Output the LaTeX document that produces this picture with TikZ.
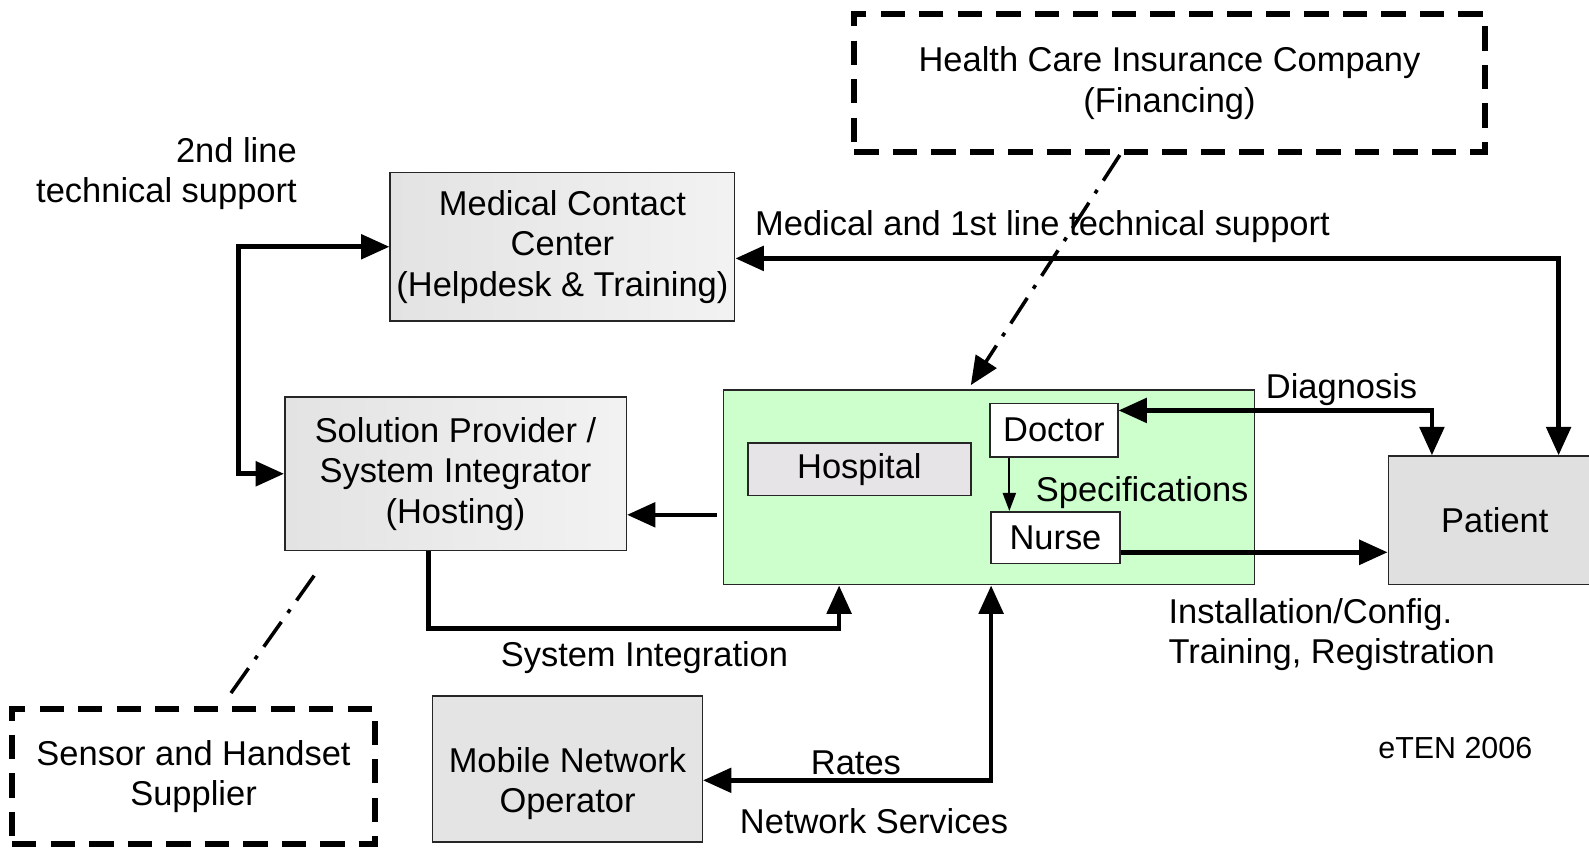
\documentclass[tikz,border=0pt]{standalone}
\usepackage{fontspec}
\setmainfont{Liberation Sans}
\usetikzlibrary{arrows.meta}
\definecolor{hgreen}{RGB}{204,255,204}
\definecolor{pgray}{RGB}{224,224,224}
\definecolor{mgray}{RGB}{228,228,228}
\definecolor{hgray}{RGB}{230,228,230}
\begin{document}
\begin{tikzpicture}[x=1pt,y=-1pt,
  every node/.style={font=\fontsize{34}{40}\selectfont, inner sep=0pt},
  box/.style={draw=black!85, line width=1.5pt, align=center},
  shadebox/.style={box, left color=black!11, right color=black!5},
  dashbox/.style={draw=black, line width=6pt, dash pattern=on 24pt off 14pt, align=center},
  arr/.style={line width=4.5pt, line join=miter, -{Triangle[length=28pt,width=24pt]}},
  biarr/.style={line width=4.5pt, line join=miter, {Triangle[length=28pt,width=24pt]}-{Triangle[length=28pt,width=24pt]}},
  thinarr/.style={line width=2pt, -{Triangle[length=18pt,width=13pt]}},
  dashdot/.style={line width=3.5pt, dash pattern=on 30pt off 11pt on 4pt off 11pt},
  lbl/.style={anchor=base west}
]
\useasboundingbox (0,0) rectangle (1568,838);

% boxes
\node[dashbox, minimum width=622pt, minimum height=136pt] (Ins) at (1154,82) {Health Care Insurance Company\\(Financing)};
\node[shadebox, minimum width=340pt, minimum height=147pt] (MCC) at (555,243.5) {Medical Contact\\Center\\(Helpdesk \& Training)};
\node[shadebox, minimum width=337pt, minimum height=151pt] (SP) at (449.5,467.5) {Solution Provider /\\System Integrator\\(Hosting)};
\node[box, fill=hgreen, minimum width=524pt, minimum height=192pt] (Green) at (976,481) {};
\node[box, fill=hgray, minimum width=220pt, minimum height=52pt] (Hosp) at (848,463) {Hospital};
\node[box, fill=white, minimum width=126pt, minimum height=53pt] (Doc) at (1040,424.5) {Doctor};
\node[box, fill=white, minimum width=127pt, minimum height=51pt] (Nurse) at (1041.5,530.5) {Nurse};
\node[box, fill=pgray, minimum width=210pt, minimum height=127pt] (Pat) at (1475,513.5) {Patient};
\node[dashbox, minimum width=358pt, minimum height=133pt] (Sens) at (191,766.5) {Sensor and Handset\\Supplier};
\node[box, fill=mgray, minimum width=266pt, minimum height=144pt,
  label={[align=center, yshift=-14pt]center:Mobile Network\\Operator}] (MNO) at (560,759) {};

% helper coordinates
\coordinate (c1) at (1538,255);
\coordinate (c2) at (1413,405);
\coordinate (c3) at (1200,545);
\coordinate (c4) at (996,480);
\coordinate (c5) at (660,508);
\coordinate (c6) at (423,620);
\coordinate (c7) at (828,620);
\coordinate (c8) at (978,770);
\coordinate (c9) at (958,380);
\coordinate (c10) at (310,568);
\coordinate (c11) at (225,688);

% connectors
\draw[biarr] (MCC.west) -- ++(-149,0) |- (SP.west);
\draw[biarr] (MCC.east |- c1) -- (c1) -- (c1 |- Pat.north);
\draw[biarr] (Doc.east |- c2) -- (c2) -- (c2 |- Pat.north);
\draw[arr] (Nurse.east |- c3) -- (Pat.west |- c3);
\draw[thinarr] (Doc.south -| c4) -- (Nurse.north -| c4);
\draw[arr] ([xshift=-6pt]Green.west |- c5) -- (SP.east |- c5);
\draw[arr] (SP.south -| c6) -- (c6) -- (c7) -- (Green.south -| c7);
\draw[biarr] (Green.south -| c8) -- (c8) -- (MNO.east |- c8);
\draw[dashdot, -{Triangle[length=28pt,width=24pt]}] (Ins.south -| 1105,0) -- (c9);
\draw[dashdot] (c10) -- (c11);

% labels
\node[anchor=base east] (l2a) at (293,160) {2nd line};
\node[anchor=base east] (l2b) at (293,200) {technical support};
\node[lbl] (lmed) at (745,232) {Medical and 1st line technical support};
\node[lbl] (ldiag) at (1249,393) {Diagnosis};
\node[lbl] (lspec) at (1022,495) {Specifications};
\node[lbl] (linst) at (1153,615) {Installation/Config.};
\node[lbl] (ltrain) at (1153,655) {Training, Registration};
\node[lbl] (lsys) at (494,658) {System Integration};
\node[lbl] (lrates) at (800,764) {Rates};
\node[lbl] (lnet) at (730,822) {Network Services};
\node[lbl, font=\fontsize{30}{36}\selectfont] (leten) at (1360,748) {eTEN 2006};
\end{tikzpicture}
\end{document}
